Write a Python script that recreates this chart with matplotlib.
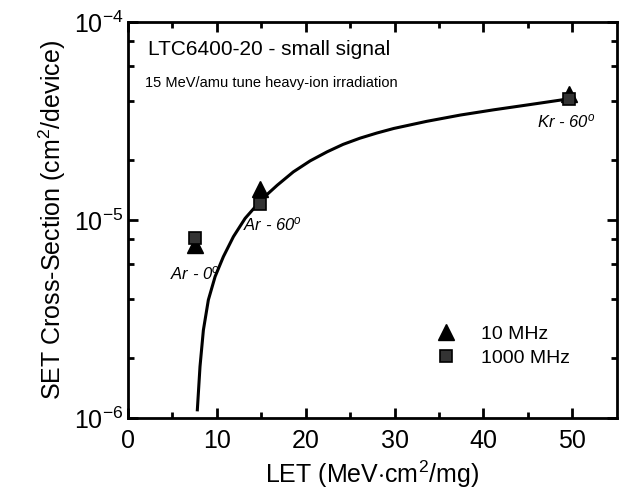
import matplotlib
matplotlib.use("Agg")
import matplotlib.pyplot as plt
from matplotlib.ticker import FixedLocator, LogLocator, NullFormatter

plt.rcParams["font.family"] = ["Liberation Sans", "DejaVu Sans"]
plt.rcParams["mathtext.fontset"] = "custom"
plt.rcParams["mathtext.rm"] = "Liberation Sans"
plt.rcParams["mathtext.it"] = "Liberation Sans:italic"

# measured points
let_10 = [7.5, 14.9, 49.6]
xs_10 = [7.5e-6, 1.43e-5, 4.35e-5]
let_1000 = [7.5, 14.9, 49.6]
xs_1000 = [8.1e-6, 1.2e-5, 4.1e-5]
ion_labels = ["Ar - 0$^o$", "Ar - 60$^o$", "Kr - 60$^o$"]

# fit curve
fit_let = [7.8, 8.1, 8.48, 9.04, 9.8, 10.73, 11.86, 13.18, 14.49, 15.6,
           16.8, 18.6, 20.5, 22.4, 24.2, 26.1, 28.0, 29.9, 33.6, 37.4,
           41.1, 44.9, 48.6, 49.9]
fit_xs = [1.1e-6, 1.82e-6, 2.78e-6, 3.95e-6, 5.18e-6, 6.53e-6, 8.24e-6,
          1.02e-5, 1.19e-5, 1.34e-5, 1.5e-5, 1.75e-5, 1.99e-5, 2.21e-5,
          2.41e-5, 2.59e-5, 2.75e-5, 2.9e-5, 3.15e-5, 3.39e-5, 3.6e-5,
          3.81e-5, 4.03e-5, 4.12e-5]

fig = plt.figure(figsize=(6.23, 5.04), dpi=100)
ax = fig.add_axes([0.2055, 0.1706, 0.7845, 0.7857])

ax.plot(fit_let, fit_xs, color="black", lw=2.2, zorder=2,
        solid_joinstyle="round")
ax.plot(let_10, xs_10, ls="none", marker="^", ms=11, color="black",
        label="10 MHz", zorder=3)
ax.plot(let_1000, xs_1000, ls="none", marker="s", ms=9, mfc="#333333",
        mec="black", mew=1.2, label="1000 MHz", zorder=4)

ax.set_yscale("log")
ax.set_xlim(0, 55)
ax.set_ylim(1e-6, 1e-4)

ax.xaxis.set_major_locator(FixedLocator([0, 10, 20, 30, 40, 50]))
ax.xaxis.set_minor_locator(FixedLocator([5, 15, 25, 35, 45]))
ax.yaxis.set_major_locator(FixedLocator([1e-6, 1e-5, 1e-4]))
ax.yaxis.set_minor_locator(LogLocator(base=10, subs=[2, 4, 6, 8]))
ax.yaxis.set_minor_formatter(NullFormatter())
ax.set_yticklabels([r"$\mathregular{10^{-6}}$", r"$\mathregular{10^{-5}}$",
                    r"$\mathregular{10^{-4}}$"])

ax.tick_params(which="both", direction="in", top=True, right=True,
               labelsize=18, width=2)
ax.tick_params(which="major", length=7)
ax.tick_params(which="minor", length=4)
ax.tick_params(axis="x", pad=8)
for s in ax.spines.values():
    s.set_linewidth(2)

ax.set_xlabel(r"LET (MeV$\cdot$cm$^{\mathregular{2}}$/mg)", fontsize=18)
ax.set_ylabel(r"SET Cross-Section (cm$^{\mathregular{2}}$/device)", fontsize=18)

ax.text(0.04, 0.93, "LTC6400-20 - small signal", transform=ax.transAxes,
        fontsize=15, va="center")
ax.text(0.035, 0.845, "15 MeV/amu tune heavy-ion irradiation",
        transform=ax.transAxes, fontsize=10.5, va="center")

ax.text(7.5, 5.0e-6, ion_labels[0], fontsize=12, style="italic", ha="center")
ax.text(16.3, 8.9e-6, ion_labels[1], fontsize=12, style="italic", ha="center")
ax.text(49.3, 2.95e-5, ion_labels[2], fontsize=12, style="italic", ha="center")

ax.legend(loc="lower right", bbox_to_anchor=(0.92, 0.11), frameon=False,
          fontsize=14, handletextpad=0.8, borderaxespad=0, labelspacing=0.3)

fig.savefig("out.png", dpi=100)
